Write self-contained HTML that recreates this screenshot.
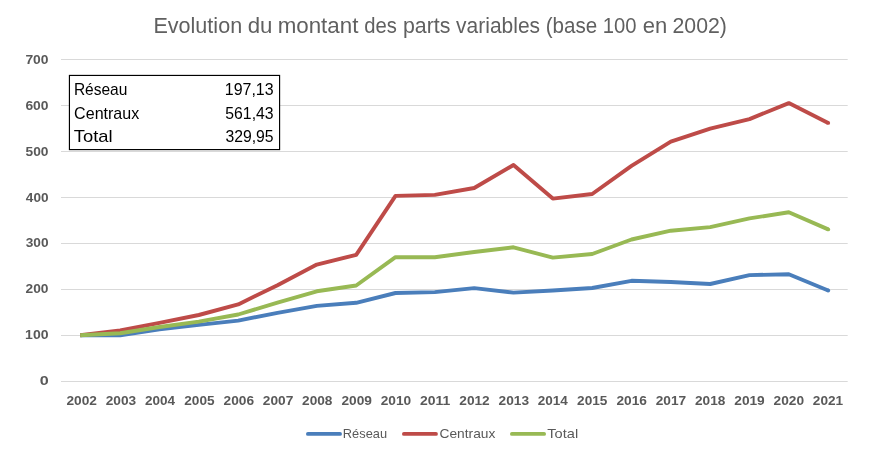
<!DOCTYPE html>
<html lang="fr"><head><meta charset="utf-8"><title>Evolution du montant des parts variables</title>
<style>html,body{margin:0;padding:0;background:#fff}body{width:873px;height:460px;overflow:hidden}svg{display:block}text{font-family:"Liberation Sans",Arial,sans-serif}</style></head><body>
<svg width="873" height="460" viewBox="0 0 873 460">
<rect width="873" height="460" fill="#fff"/>
<text y="32.7" font-size="21.2" fill="#606060"><tspan x="153.42" textLength="88.73" lengthAdjust="spacingAndGlyphs">Evolution</tspan> <tspan x="247.68" textLength="24.74" lengthAdjust="spacingAndGlyphs">du</tspan> <tspan x="277.65" textLength="80.75" lengthAdjust="spacingAndGlyphs">montant</tspan> <tspan x="364.17" textLength="32.59" lengthAdjust="spacingAndGlyphs">des</tspan> <tspan x="402.92" textLength="47.42" lengthAdjust="spacingAndGlyphs">parts</tspan> <tspan x="456.08" textLength="84.01" lengthAdjust="spacingAndGlyphs">variables</tspan> <tspan x="545.76" textLength="51.49" lengthAdjust="spacingAndGlyphs">(base</tspan> <tspan x="602.85" textLength="33.77" lengthAdjust="spacingAndGlyphs">100</tspan> <tspan x="642.89" textLength="24.49" lengthAdjust="spacingAndGlyphs">en</tspan> <tspan x="672.47" textLength="54.46" lengthAdjust="spacingAndGlyphs">2002)</tspan></text>
<g stroke="#d9d9d9" stroke-width="1">
<line x1="61.0" x2="847.7" y1="381.5" y2="381.5"/>
<line x1="61.0" x2="847.7" y1="335.5" y2="335.5"/>
<line x1="61.0" x2="847.7" y1="289.5" y2="289.5"/>
<line x1="61.0" x2="847.7" y1="243.5" y2="243.5"/>
<line x1="61.0" x2="847.7" y1="197.5" y2="197.5"/>
<line x1="61.0" x2="847.7" y1="151.5" y2="151.5"/>
<line x1="61.0" x2="847.7" y1="105.5" y2="105.5"/>
<line x1="61.0" x2="847.7" y1="59.5" y2="59.5"/>
</g>
<text x="39.74" y="385.0" font-size="12.2" font-weight="bold" fill="#595959" textLength="8.96" lengthAdjust="spacingAndGlyphs">0</text>
<text x="25.14" y="339.0" font-size="12.2" font-weight="bold" fill="#595959" textLength="23.40" lengthAdjust="spacingAndGlyphs">100</text>
<text x="25.58" y="293.0" font-size="12.2" font-weight="bold" fill="#595959" textLength="22.95" lengthAdjust="spacingAndGlyphs">200</text>
<text x="25.72" y="247.0" font-size="12.2" font-weight="bold" fill="#595959" textLength="22.81" lengthAdjust="spacingAndGlyphs">300</text>
<text x="25.86" y="202.0" font-size="12.2" font-weight="bold" fill="#595959" textLength="22.66" lengthAdjust="spacingAndGlyphs">400</text>
<text x="25.58" y="156.0" font-size="12.2" font-weight="bold" fill="#595959" textLength="22.95" lengthAdjust="spacingAndGlyphs">500</text>
<text x="25.43" y="110.0" font-size="12.2" font-weight="bold" fill="#595959" textLength="23.10" lengthAdjust="spacingAndGlyphs">600</text>
<text x="25.43" y="64.0" font-size="12.2" font-weight="bold" fill="#595959" textLength="23.10" lengthAdjust="spacingAndGlyphs">700</text>
<text x="66.43" y="405.0" font-size="12.2" font-weight="bold" fill="#595959" textLength="30.48" lengthAdjust="spacingAndGlyphs">2002</text>
<text x="105.71" y="405.0" font-size="12.2" font-weight="bold" fill="#595959" textLength="30.48" lengthAdjust="spacingAndGlyphs">2003</text>
<text x="145.00" y="405.0" font-size="12.2" font-weight="bold" fill="#595959" textLength="30.05" lengthAdjust="spacingAndGlyphs">2004</text>
<text x="184.29" y="405.0" font-size="12.2" font-weight="bold" fill="#595959" textLength="30.34" lengthAdjust="spacingAndGlyphs">2005</text>
<text x="223.57" y="405.0" font-size="12.2" font-weight="bold" fill="#595959" textLength="30.48" lengthAdjust="spacingAndGlyphs">2006</text>
<text x="262.85" y="405.0" font-size="12.2" font-weight="bold" fill="#595959" textLength="30.48" lengthAdjust="spacingAndGlyphs">2007</text>
<text x="302.14" y="405.0" font-size="12.2" font-weight="bold" fill="#595959" textLength="30.34" lengthAdjust="spacingAndGlyphs">2008</text>
<text x="341.42" y="405.0" font-size="12.2" font-weight="bold" fill="#595959" textLength="30.48" lengthAdjust="spacingAndGlyphs">2009</text>
<text x="380.71" y="405.0" font-size="12.2" font-weight="bold" fill="#595959" textLength="30.48" lengthAdjust="spacingAndGlyphs">2010</text>
<text x="419.99" y="405.0" font-size="12.2" font-weight="bold" fill="#595959" textLength="30.31" lengthAdjust="spacingAndGlyphs">2011</text>
<text x="459.28" y="405.0" font-size="12.2" font-weight="bold" fill="#595959" textLength="30.48" lengthAdjust="spacingAndGlyphs">2012</text>
<text x="498.56" y="405.0" font-size="12.2" font-weight="bold" fill="#595959" textLength="30.48" lengthAdjust="spacingAndGlyphs">2013</text>
<text x="537.85" y="405.0" font-size="12.2" font-weight="bold" fill="#595959" textLength="30.05" lengthAdjust="spacingAndGlyphs">2014</text>
<text x="577.14" y="405.0" font-size="12.2" font-weight="bold" fill="#595959" textLength="30.34" lengthAdjust="spacingAndGlyphs">2015</text>
<text x="616.42" y="405.0" font-size="12.2" font-weight="bold" fill="#595959" textLength="30.48" lengthAdjust="spacingAndGlyphs">2016</text>
<text x="655.70" y="405.0" font-size="12.2" font-weight="bold" fill="#595959" textLength="30.48" lengthAdjust="spacingAndGlyphs">2017</text>
<text x="694.99" y="405.0" font-size="12.2" font-weight="bold" fill="#595959" textLength="30.34" lengthAdjust="spacingAndGlyphs">2018</text>
<text x="734.27" y="405.0" font-size="12.2" font-weight="bold" fill="#595959" textLength="30.48" lengthAdjust="spacingAndGlyphs">2019</text>
<text x="773.56" y="405.0" font-size="12.2" font-weight="bold" fill="#595959" textLength="30.48" lengthAdjust="spacingAndGlyphs">2020</text>
<text x="812.85" y="405.0" font-size="12.2" font-weight="bold" fill="#595959" textLength="30.34" lengthAdjust="spacingAndGlyphs">2021</text>
<g fill="none" stroke-width="3.9" stroke-linejoin="round" stroke-linecap="butt">
<polyline stroke="#4a7ebb" points="80.2,335.2 120.2,335.3 159.5,329.4 198.8,324.9 238.2,320.6 277.5,312.8 316.8,305.9 356.2,302.8 395.5,293.0 434.8,292.1 474.2,288.1 513.5,292.6 552.8,290.5 592.2,288.0 631.5,280.8 670.8,282.0 710.2,284.0 749.5,275.1 788.8,274.3 828.2,290.5"/><circle cx="828.2" cy="290.5" r="1.95" fill="#4a7ebb"/>
<polyline stroke="#be4b48" points="80.2,335.2 120.2,330.5 159.5,322.8 198.8,315.0 238.2,304.4 277.5,285.2 316.8,264.6 356.2,254.8 395.5,195.9 434.8,194.9 474.2,188.0 513.5,165.0 552.8,198.6 592.2,194.0 631.5,165.9 670.8,141.6 710.2,128.7 749.5,119.1 788.8,103.1 828.2,122.9"/><circle cx="828.2" cy="122.9" r="1.95" fill="#be4b48"/>
<polyline stroke="#98b954" points="80.2,335.2 120.2,333.2 159.5,327.0 198.8,321.6 238.2,314.5 277.5,302.6 316.8,291.3 356.2,285.5 395.5,257.2 434.8,257.2 474.2,252.0 513.5,247.3 552.8,257.6 592.2,254.0 631.5,239.5 670.8,230.7 710.2,227.1 749.5,218.4 788.8,212.3 828.2,229.4"/><circle cx="828.2" cy="229.4" r="1.95" fill="#98b954"/>
</g>
<rect x="69.43" y="75.43" width="210.16" height="74.16" fill="#fff" stroke="#000" stroke-width="1.16"/>
<text x="73.88" y="95.0" font-size="15.9" fill="#000" textLength="53.53" lengthAdjust="spacingAndGlyphs">Réseau</text>
<text x="74.14" y="119.0" font-size="15.9" fill="#000" textLength="65.09" lengthAdjust="spacingAndGlyphs">Centraux</text>
<text x="73.77" y="142.0" font-size="15.9" fill="#000" textLength="38.78" lengthAdjust="spacingAndGlyphs">Total</text>
<text x="224.83" y="95.0" font-size="17.0" fill="#000" textLength="48.78" lengthAdjust="spacingAndGlyphs">197,13</text>
<text x="225.30" y="119.0" font-size="17.0" fill="#000" textLength="48.29" lengthAdjust="spacingAndGlyphs">561,43</text>
<text x="225.42" y="142.0" font-size="17.0" fill="#000" textLength="48.17" lengthAdjust="spacingAndGlyphs">329,95</text>
<g stroke-width="3.8" stroke-linecap="round">
<line x1="307.9" x2="340.05" y1="433.95" y2="433.95" stroke="#4a7ebb"/>
<line x1="403.9" x2="436" y1="433.95" y2="433.95" stroke="#be4b48"/>
<line x1="511.9" x2="544.1" y1="433.95" y2="433.95" stroke="#98b954"/>
</g>
<text x="342.85" y="437.7" font-size="12.2" fill="#595959" textLength="44.19" lengthAdjust="spacingAndGlyphs">Réseau</text>
<text x="439.49" y="437.7" font-size="12.2" fill="#595959" textLength="55.83" lengthAdjust="spacingAndGlyphs">Centraux</text>
<text x="547.30" y="437.7" font-size="12.2" fill="#595959" textLength="30.85" lengthAdjust="spacingAndGlyphs">Total</text>
</svg></body></html>
